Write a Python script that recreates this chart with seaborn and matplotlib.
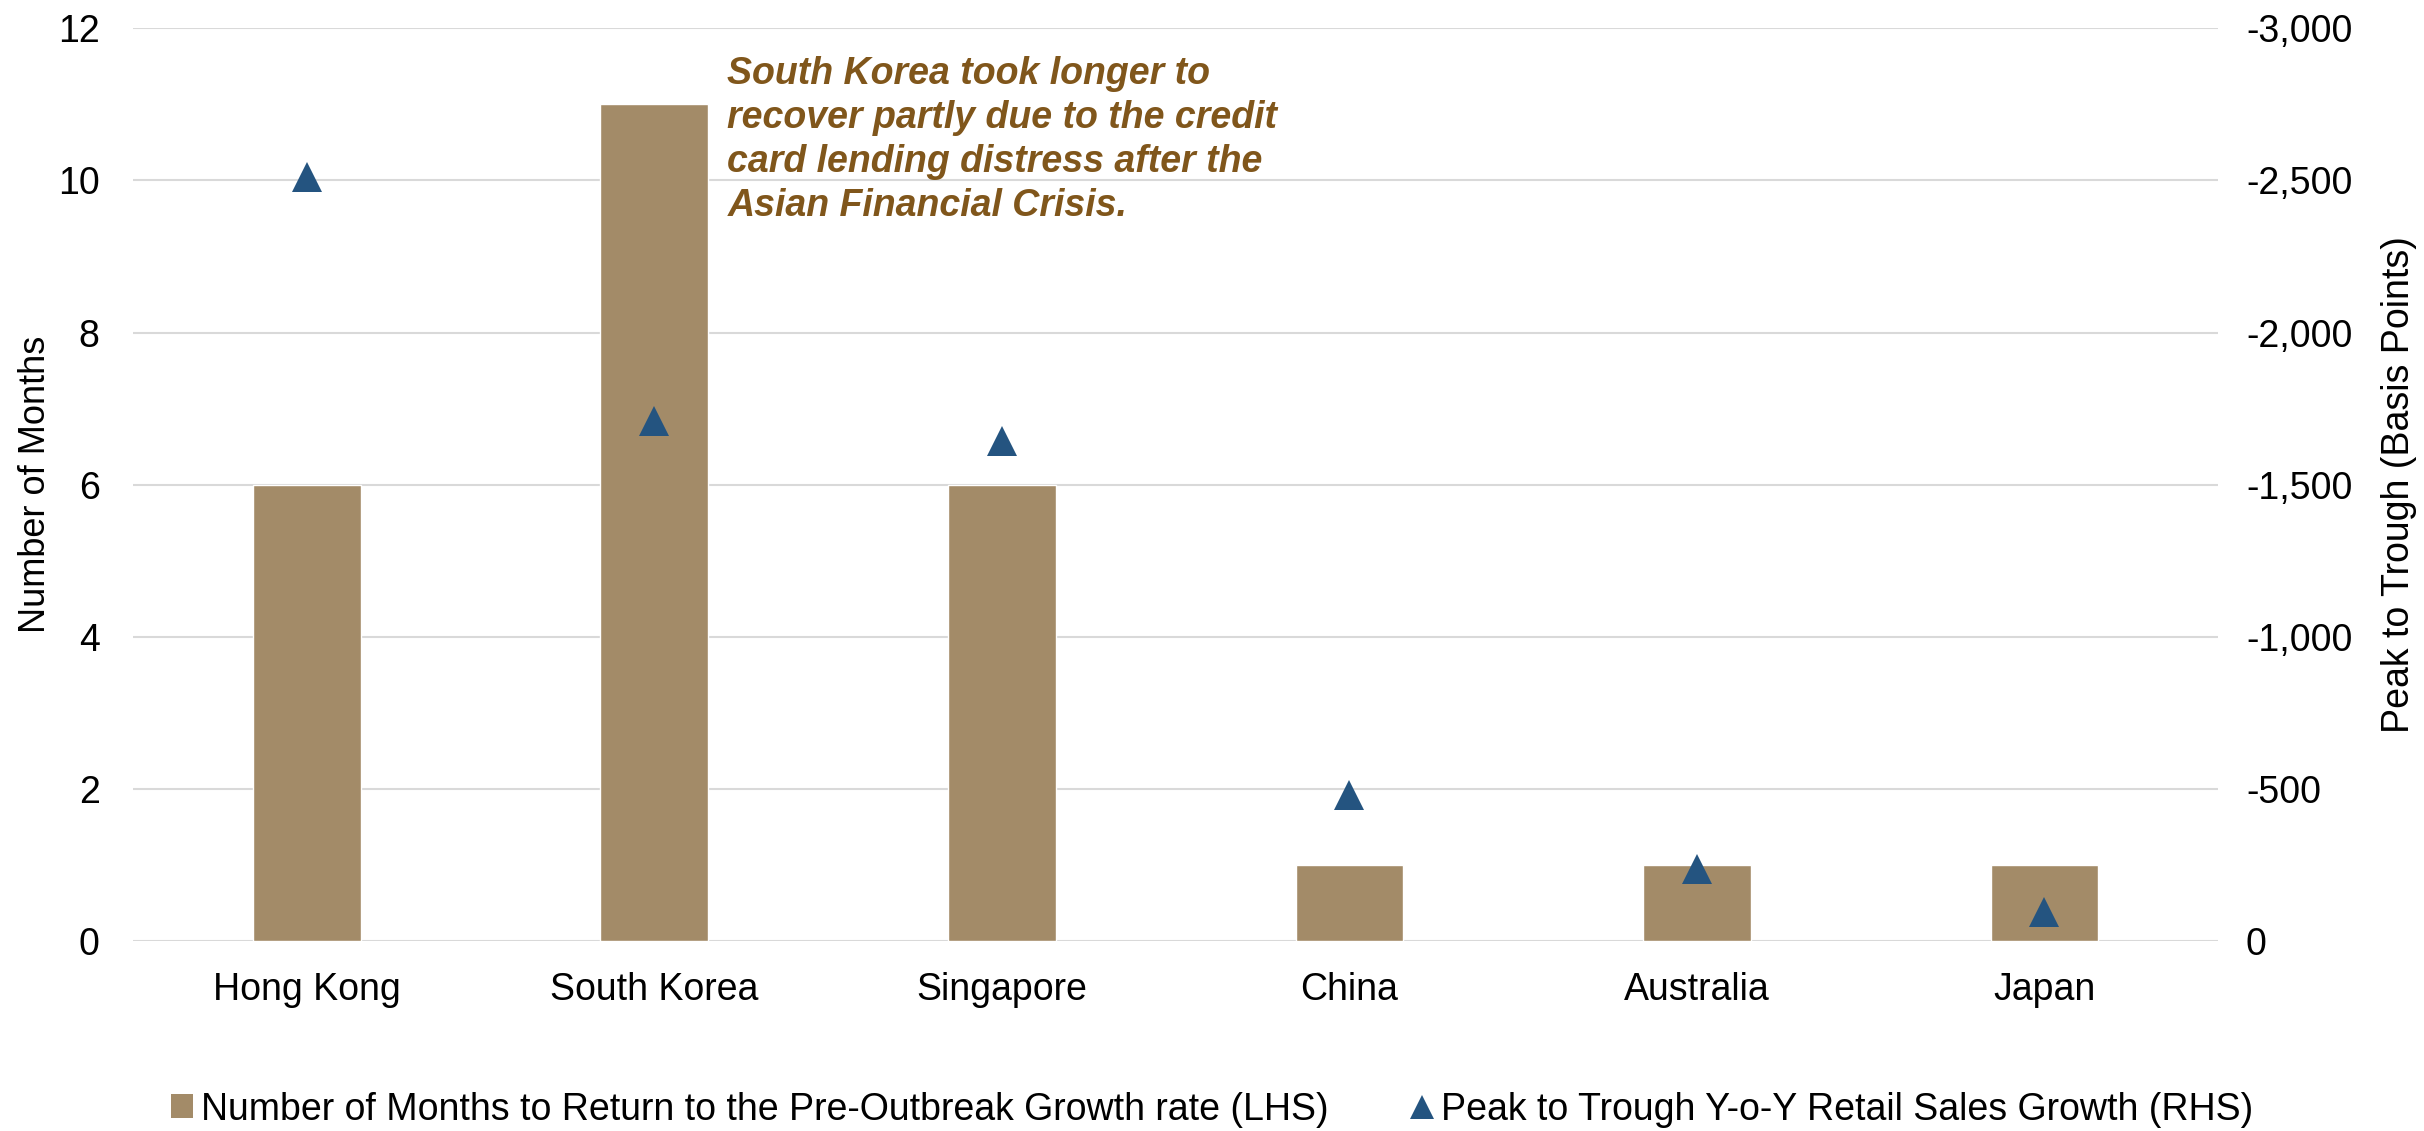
import matplotlib
matplotlib.use("Agg")
import matplotlib.pyplot as plt
from matplotlib.patches import Patch
from matplotlib.lines import Line2D
from matplotlib.ticker import FuncFormatter
import numpy as np
import pandas as pd
import seaborn as sns

# Data
countries = ["Hong Kong", "South Korea", "Singapore", "China", "Australia", "Japan"]
months_to_recover = [6, 11, 6, 1, 1, 1]
peak_to_trough_bps = [-2510, -1710, -1645, -480, -238, -95]

bar_label = "Number of Months to Return to the Pre-Outbreak Growth rate (LHS)"
marker_label = "Peak to Trough Y-o-Y Retail Sales Growth (RHS)"
note = ("South Korea took longer to\n"
        "recover partly due to the credit\n"
        "card lending distress after the\n"
        "Asian Financial Crisis.")

BAR_COLOR = "#A38B68"
MARKER_COLOR = "#245480"
NOTE_COLOR = "#80561B"
GRID_COLOR = "#D9D9D9"
FS = 27

sns.set_theme(style="white")
plt.rcParams["font.family"] = ["Liberation Sans", "DejaVu Sans"]
plt.rcParams["text.color"] = "black"
plt.rcParams["axes.labelcolor"] = "black"

df = pd.DataFrame({"country": countries,
                   "months": months_to_recover,
                   "bps": peak_to_trough_bps})

fig = plt.figure(figsize=(24.24, 11.31), dpi=100)
ax = fig.add_axes([0.0549, 0.168, 0.8602, 0.807])

sns.barplot(data=df, x="country", y="months", order=countries,
            color=BAR_COLOR, saturation=1, width=0.31, ax=ax)

ax.set_ylim(0, 12)
ax.set_yticks(np.arange(0, 13, 2))
ax.set_xlim(-0.5, len(countries) - 0.5)
ax.yaxis.grid(True, color=GRID_COLOR, linewidth=1.5)
ax.set_axisbelow(True)
for s in ax.spines.values():
    s.set_visible(False)
ax.tick_params(axis="both", length=0, labelsize=FS, colors="black")
ax.tick_params(axis="x", pad=22)
ax.tick_params(axis="y", pad=24)
ax.set_xlabel("")
ax.set_ylabel("Number of Months", fontsize=26, color="black")
ax.yaxis.set_label_coords(-0.0384, 0.5)

ax2 = ax.twinx()
sns.pointplot(data=df, x="country", y="bps", order=countries,
              linestyle="none", marker="^", markersize=22,
              markeredgewidth=0, color=MARKER_COLOR, errorbar=None, ax=ax2)
ax2.set_xlim(-0.5, len(countries) - 0.5)
ax2.set_ylim(0, -3000)
ax2.set_yticks(np.arange(0, -3001, -500))
ax2.yaxis.set_major_formatter(FuncFormatter(lambda v, p: f"{int(v):,}"))
for s in ax2.spines.values():
    s.set_visible(False)
ax2.tick_params(axis="y", length=0, labelsize=FS, pad=20, colors="black")
ax2.set_ylabel("Peak to Trough (Basis Points)", fontsize=FS, color="black")
ax2.yaxis.set_label_coords(1.078, 0.5)
ax2.grid(False)

ax.text(1.21, 11.64, note, fontsize=FS, fontweight="bold", fontstyle="italic",
        color=NOTE_COLOR, ha="left", va="top", linespacing=1.29, zorder=5)

handles = [
    Patch(facecolor=BAR_COLOR, edgecolor="none", label=bar_label),
    Line2D([], [], linestyle="none", marker="^", markersize=17,
           markeredgewidth=0, color=MARKER_COLOR, label=marker_label),
]
leg = fig.legend(handles=handles, loc="center", bbox_to_anchor=(0.5, 0.019),
                 ncol=2, frameon=False, fontsize=FS, handlelength=0.6,
                 handleheight=0.6, handletextpad=0.2, columnspacing=2.2)
for t in leg.get_texts():
    t.set_color("black")

fig.savefig("out.png", dpi=100)
